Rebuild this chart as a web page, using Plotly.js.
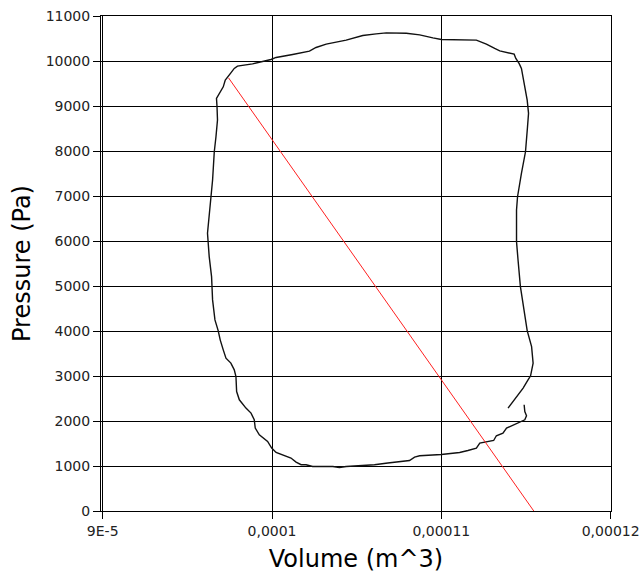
<!DOCTYPE html>
<html><head><meta charset="utf-8">
<script src="https://cdn.plot.ly/plotly-3.0.1.min.js"></script>
<style>html,body{margin:0;padding:0;background:#fff;}</style>
</head><body><div id="chart" style="width:641px;height:578px;"></div>
<script>
const loopVolume = [
  11.394e-5, 11.444e-5, 11.483e-5, 11.512e-5, 11.527e-5, 11.542e-5, 11.533e-5, 11.507e-5, 11.483e-5, 11.467e-5,
  11.453e-5, 11.444e-5, 11.444e-5, 11.450e-5, 11.473e-5, 11.497e-5, 11.509e-5, 11.515e-5, 11.507e-5, 11.487e-5,
  11.473e-5, 11.459e-5, 11.440e-5, 11.430e-5, 11.345e-5, 11.315e-5, 11.266e-5, 11.207e-5, 11.000e-5, 10.950e-5,
  10.872e-5, 10.793e-5, 10.675e-5, 10.615e-5, 10.536e-5, 10.438e-5, 10.320e-5, 10.260e-5, 10.221e-5, 10.122e-5,
  10.024e-5, 9.994e-5, 9.925e-5, 9.885e-5, 9.796e-5, 9.777e-5, 9.757e-5, 9.737e-5, 9.724e-5, 9.712e-5,
  9.692e-5, 9.672e-5, 9.675e-5, 9.678e-5, 9.669e-5, 9.659e-5, 9.649e-5, 9.639e-5, 9.623e-5, 9.619e-5,
  9.629e-5, 9.643e-5, 9.649e-5, 9.663e-5, 9.682e-5, 9.694e-5, 9.712e-5, 9.728e-5, 9.757e-5, 9.777e-5,
  9.787e-5, 9.791e-5, 9.807e-5, 9.846e-5, 9.876e-5, 9.895e-5, 9.901e-5, 9.925e-5, 9.974e-5, 9.998e-5,
  10.024e-5, 10.083e-5, 10.112e-5, 10.142e-5, 10.172e-5, 10.201e-5, 10.240e-5, 10.359e-5, 10.398e-5, 10.438e-5,
  10.517e-5, 10.546e-5, 10.605e-5, 10.684e-5, 10.812e-5, 10.842e-5, 10.872e-5, 11.000e-5, 11.108e-5, 11.157e-5,
  11.207e-5, 11.227e-5, 11.266e-5, 11.309e-5, 11.325e-5, 11.364e-5, 11.385e-5, 11.424e-5, 11.463e-5, 11.493e-5,
  11.503e-5, 11.493e-5, 11.489e-5
];
const loopPressure = [
  2287, 2544, 2731, 2915, 3004, 3286, 3654, 4009, 4542, 4986,
  5579, 5985, 6689, 6984, 7504, 7983, 8538, 8836, 9131, 9575,
  9835, 9946, 10057, 10152, 10225, 10279, 10374, 10463, 10478, 10514,
  10581, 10618, 10625, 10603, 10567, 10463, 10374, 10301, 10219, 10145,
  10079, 10034, 9968, 9937, 9886, 9835, 9737, 9648, 9575, 9426,
  9280, 9169, 8998, 8687, 8316, 7983, 7355, 6984, 6467, 6172,
  5652, 5208, 4691, 4247, 4009, 3803, 3581, 3397, 3286, 3137,
  2988, 2655, 2471, 2287, 2176, 2027, 1843, 1694, 1545, 1399,
  1301, 1212, 1177, 1088, 1028, 1028, 990, 990, 968, 990,
  1006, 1006, 1028, 1066, 1123, 1199, 1228, 1257, 1301, 1345,
  1399, 1510, 1545, 1567, 1672, 1732, 1843, 1916, 1989, 2027,
  2116, 2211, 2360
];
const fitVolume = [9.743e-5, 11.546e-5];
const fitPressure = [9626, 0];

const xTickValues = [9e-5, 1e-4, 1.1e-4, 1.2e-4];
const xTickLabels = ['9E-5', '0,0001', '0,00011', '0,00012'];
const yTickValues = [0, 1000, 2000, 3000, 4000, 5000, 6000, 7000, 8000, 9000, 10000, 11000];
const yTickLabels = ['0', '1000', '2000', '3000', '4000', '5000', '6000', '7000', '8000', '9000', '10000', '11000'];

const tickFont = {family: 'DejaVu Sans', size: 14, color: '#222'};
const titleFont = {family: 'DejaVu Sans', size: 24, color: '#000'};

const traces = [
  {x: loopVolume, y: loopPressure, type: 'scatter', mode: 'lines',
   line: {color: '#111', width: 1.4}, hoverinfo: 'none'},
  {x: fitVolume, y: fitPressure, type: 'scatter', mode: 'lines',
   line: {color: '#ff2020', width: 1}, hoverinfo: 'none'}
];

const axisCommon = {
  showgrid: true, gridcolor: '#000', gridwidth: 1,
  showline: true, linecolor: '#000', linewidth: 1, mirror: true,
  zeroline: false, ticks: 'outside', ticklen: 7, tickcolor: '#000', tickwidth: 1,
  tickfont: tickFont, tickmode: 'array', fixedrange: true
};

const layout = {
  width: 641, height: 578,
  margin: {l: 101, r: 30, t: 16, b: 67},
  paper_bgcolor: '#fff', plot_bgcolor: '#fff',
  showlegend: false,
  xaxis: Object.assign({}, axisCommon, {
    range: [8.99e-5, 12.002e-5],
    tickvals: xTickValues, ticktext: xTickLabels,
    title: {text: 'Volume (m^3)', font: titleFont, standoff: 12}
  }),
  yaxis: Object.assign({}, axisCommon, {
    range: [0, 11000],
    tickvals: yTickValues, ticktext: yTickLabels,
    title: {text: 'Pressure (Pa)', font: titleFont, standoff: 8}
  })
};

Plotly.newPlot('chart', traces, layout, {displayModeBar: false, staticPlot: true});
</script>
</body></html>
